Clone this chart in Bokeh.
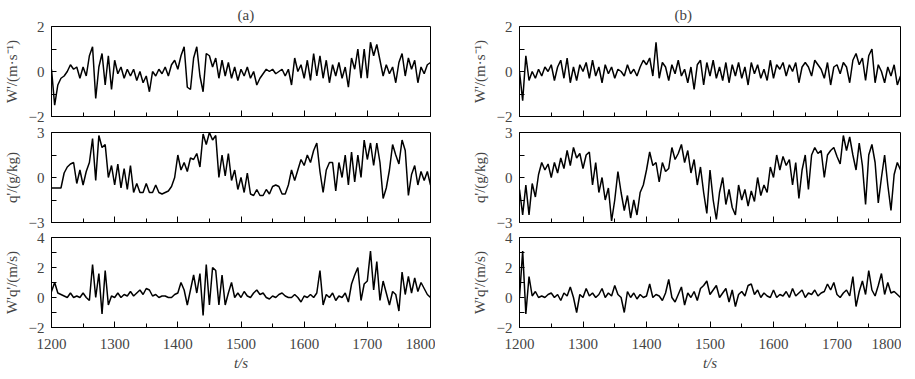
from bokeh.plotting import figure
from bokeh.layouts import row, column
from bokeh.models import FixedTicker, Range1d, Title
from bokeh.embed import file_html
from bokeh.resources import INLINE

t = list(range(1200, 1801, 5))

# (a) series
w_a = [0.1, -1.5, -0.6, -0.3, -0.2, 0.0, 0.3, 0.1, 0.2, -0.3,
       0.2, -0.2, 0.7, 1.1, -1.2, 0.2, 0.8, -0.6, 0.7, -0.8,
       0.5, -0.1, 0.2, -0.3, 0.1, -0.2, 0.1, -0.4, 0.0, -0.5,
       -0.2, -0.9, 0.0, -0.2, 0.1, -0.1, 0.2, -0.2, 0.3, 0.5,
       0.1, 0.7, 1.1, -0.7, -0.8, 0.6, 1.1, -0.2, -0.9, 0.8,
       0.7, 0.2, 0.6, -0.3, 0.5, -0.2, 0.4, -0.3, 0.2, -0.4,
       0.1, -0.2, 0.2, -0.3, 0.0, -0.6, -0.3, -0.1, 0.1, 0.0,
       0.1, -0.1, 0.0, 0.1, -0.2, 0.1, -0.6, 0.6, 0.0, 0.3,
       -0.3, 0.5, -0.4, 0.8, -0.2, 0.7, -0.3, 0.5, -0.5, 0.3,
       -0.2, 0.4, -0.3, 0.2, -0.7, 0.6, 0.1, 1.0, -0.3, 1.0,
       -0.3, 1.3, 0.7, 1.2, 0.5, -0.2, 0.3, -0.1, 0.2, -0.5,
       0.4, 0.8, -0.2, 0.6, 0.1, 0.5, -0.5, 0.2, -0.1, 0.3,
       0.4]
q_a = [-0.7, -0.7, -0.7, -0.7, 0.3, 0.7, 0.9, 1.0, -0.4, 0.5,
       -0.5, 0.4, 1.0, 2.6, -0.2, 2.8, 2.0, 2.2, 0.0, 0.8,
       -0.5, 0.9, -0.7, 0.6, -0.8, 0.8, -1.0, -0.4, -1.0, -1.0,
       -0.4, -1.0, -1.0, -0.5, -1.0, -1.1, -1.0, -0.9, -0.6, 0.0,
       1.5, 0.5, 1.0, 0.4, 1.3, 1.2, 1.6, 0.7, 2.9, 2.2,
       3.0, 2.5, 2.8, 0.0, 1.5, 0.1, 1.6, -0.2, 0.5, -0.8,
       0.0, -1.0, 0.3, -1.1, -1.2, -0.8, -1.2, -1.2, -0.8, -1.1,
       -0.6, -0.5, -0.6, -1.1, -1.1, -0.5, 0.5, -0.2, 0.5, 1.2,
       0.8, 1.5, 1.0, 1.8, 2.3, 0.4, -1.0, 0.5, 1.0, 1.0,
       -0.9, 1.0, 0.0, 1.5, -0.5, 1.7, -0.3, 1.5, 0.0, 2.5,
       1.2, 2.3, 0.8, 2.3, 1.0, -1.4, -0.7, 0.5, 2.2, 1.5,
       0.9, 2.5, 1.8, -1.2, 0.2, 0.8, -0.5, 0.4, -0.2, 0.4,
       -0.5]
wq_a = [0.4, 1.0, 0.3, 0.2, 0.1, 0.0, 0.3, 0.0, 0.1, 0.0,
        0.3, 0.0, -0.2, 2.2, 0.0, 1.6, -1.1, 1.8, -0.5, 0.1,
        0.0, 0.3, 0.0, 0.2, 0.1, 0.4, 0.1, 0.3, 0.5, 0.2,
        0.6, 0.5, 0.1, 0.2, 0.0, 0.1, 0.1, 0.0, 0.0, 0.2,
        0.3, 1.0, 0.5, -0.5, 0.5, 1.5, 0.3, 1.6, -1.2, 2.2,
        -0.5, 2.0, 1.8, -0.5, 1.5, -0.5, 0.3, 1.0, 0.0, 0.3,
        0.0, 0.4, 0.1, 0.0, 0.3, 0.5, 0.2, 0.3, 0.0, -0.1,
        0.1, 0.0, 0.2, 0.3, 0.1, 0.0, 0.0, 0.2, 0.0, -0.3,
        0.1, 0.0, 0.2, 0.0, 0.3, 1.8, -0.5, 0.2, 0.0, 0.3,
        -0.2, 0.1, 0.0, 0.3, -0.3, 0.9, 1.5, 2.0, -0.2, 0.9,
        1.1, 3.1, 0.5, 2.4, -0.2, 1.1, 0.3, -0.5, 0.4, 0.2,
        -0.9, 1.7, 0.2, 1.4, 0.3, 1.3, 0.4, 1.0, 0.6, 0.2,
        0.0]

# (b) series
w_b = [0.0, -1.3, 0.7, -0.4, 0.0, -0.3, 0.1, -0.2, 0.2, 0.0,
       0.3, -0.4, 0.2, 0.5, -0.3, 0.6, -0.5, 0.2, -0.4, 0.3,
       0.0, 0.4, -0.3, 0.5, -0.2, 0.2, -0.5, 0.3, -0.1, 0.2,
       -0.3, 0.1, 0.0, -0.2, 0.3, -0.1, 0.1, -0.2, 0.2, 0.5,
       0.3, 0.6, -0.2, 1.3, -0.3, 0.4, 0.2, -0.4, 0.3, -0.1,
       0.5, -0.2, 0.1, -0.5, 0.2, -0.8, 0.3, 0.5, -0.6, 0.4,
       -0.2, 0.5, -0.3, 0.2, -0.4, 0.4, -0.5, 0.3, -0.2, 0.4,
       -0.3, 0.2, -0.6, 0.4, -0.1, 0.3, -0.3, 0.1, -0.4, 0.5,
       -0.3, 0.3, 0.1, 0.4, -0.2, 0.3, 0.0, 0.4, -0.5, 0.2,
       0.4, 0.2, -0.2, 0.5, 0.3, 0.1, -0.3, 0.4, -0.6, 0.2,
       0.3, -0.1, 0.4, 0.2, -0.5, 0.5, 0.8, 0.3, 0.6, -0.4,
       0.7, 1.0, -0.5, 0.3, 0.0, -0.5, 0.2, -0.2, 0.3, -0.6,
       -0.2]
q_b = [-0.8, -2.5, -0.5, -2.5, -0.4, -1.3, 0.2, 1.0, 0.5, 0.9,
       0.0, 1.0, 0.3, 1.3, 0.6, 1.8, 0.8, 2.0, 1.3, 1.6,
       0.6, 1.5, 1.7, -0.5, 1.0, -1.0, 0.0, -1.5, -0.7, -2.9,
       -1.5, 0.4, -1.0, -2.2, -1.2, -2.7, -1.5, -2.5, -1.0, -0.5,
       0.5, 1.7, 0.8, 1.0, -0.3, 1.0, 0.4, 0.6, 2.0, 1.2,
       1.6, 2.2, 1.0, 1.8, 0.3, 1.2, -0.5, 0.7, -1.0, -2.4,
       0.5, -1.5, -2.8, -1.0, 0.0, -1.8, -0.8, -2.0, -2.5, -0.5,
       -1.5, -0.8, -1.9, -0.9, -1.6, 0.0, -1.2, -0.5, -1.0, 0.7,
       0.0, 1.5, 0.5, 1.4, 0.8, 1.2, -0.5, 1.0, -1.4, 0.5,
       1.5, -0.8, 1.5, 2.0, 1.6, 1.8, 0.0, 1.5, 1.8, 2.0,
       1.4, 0.9, 2.8, 1.8, 2.7, 1.5, 0.5, 2.3, 0.8, -1.8,
       1.5, 2.2, 1.0, -1.7, 0.0, 1.5, -0.5, -2.2, 0.2, 1.0,
       0.5]
wq_b = [0.0, 3.1, -1.1, 1.4, 0.1, 0.4, 0.0, 0.1, 0.0, 0.2,
        0.3, 0.0, 0.2, -0.2, 0.3, 0.1, 0.7, 0.0, -1.0, 0.2,
        0.0, 0.6, 0.1, 0.3, 0.0, 0.2, 0.6, 0.0, 0.3, 0.1,
        0.8, 0.2, 0.0, -1.0, 0.4, 0.0, 0.3, -0.1, 0.2, 0.0,
        0.1, 0.9, 0.0, 0.2, 0.1, -0.2, 0.3, 1.2, 0.0, -0.3,
        0.2, 0.7, -0.5, 0.3, 0.0, 0.4, -0.2, 0.6, 0.8, 1.1,
        0.2, 0.5, 0.8, 0.0, 0.3, 0.6, -0.3, 0.5, -0.6, 0.2,
        0.4, 0.1, 0.8, 0.9, 0.2, 0.5, 0.0, 0.3, 0.1, 0.0,
        0.5, 0.0, 0.2, 0.1, 0.4, 0.0, 0.6, 0.1, 0.3, 0.5,
        0.0, 0.3, 0.2, 0.5, 0.1, 0.3, 0.4, 0.9, 0.5, 1.0,
        0.2, 0.0, 0.3, 0.5, 0.1, 1.4, -0.6, 0.4, 1.1, 0.2,
        1.8, 0.5, 0.1, 0.8, 1.6, 0.2, 1.0, 0.3, 0.4, 0.2,
        0.0]

x_major = [1200, 1300, 1400, 1500, 1600, 1700, 1800]
x_minor = [1250, 1350, 1450, 1550, 1650, 1750]
x_label = "t/s"
titles = ["(a)", "(b)"]

ylabels = ["W'/(m·s⁻¹)", "q'/(g/kg)", "W'q'/(m/s)"]
y_limits = [(-2, 2), (-3, 3), (-2, 4)]
y_major = [[-2, 0, 2], [-3, 0, 3], [-2, 0, 2, 4]]
y_minor = [[-1, 1], [-1.5, 1.5], [-1, 1, 3]]

FONT = "Liberation Serif"
FS = "15px"


def panel(y, idx, col, title=None):
    bottom = idx == 2
    top = idx == 0
    left_b = 41 if col == 0 else 84
    right_b = 5 if col == 0 else 1
    top_b = 26 if top else 8
    bot_b = 8 if top else 7
    p = figure(frame_width=379 if col == 0 else 381, frame_height=90,
               x_range=Range1d(1200, 1800), y_range=Range1d(*y_limits[idx]),
               output_backend="svg", toolbar_location=None,
               min_border_left=left_b, min_border_right=right_b,
               min_border_top=top_b, min_border_bottom=bot_b,
               background_fill_color="white", border_fill_color="white")
    p.line(t, y, line_color="black", line_width=1.5)
    p.grid.visible = False
    p.outline_line_color = "black"
    p.outline_line_width = 1
    p.outline_line_alpha = 1

    xa = p.xaxis[0]
    xa.ticker = FixedTicker(ticks=x_major, minor_ticks=x_minor)
    xa.major_tick_in = 6
    xa.major_tick_out = 0
    xa.minor_tick_in = 4
    xa.minor_tick_out = 0
    xa.axis_line_color = "black"
    xa.major_tick_line_color = "black"
    xa.minor_tick_line_color = "black"
    if bottom:
        xa.major_label_text_font = FONT
        xa.major_label_text_font_size = FS
        xa.major_label_standoff = 11
        xa.axis_label = x_label
        xa.axis_label_text_font = FONT
        xa.axis_label_text_font_size = FS
        xa.axis_label_text_font_style = "italic"
        xa.axis_label_standoff = 3
    else:
        xa.major_label_text_color = None
        xa.major_label_text_font_size = "1px"
        xa.major_label_standoff = 0

    ya = p.yaxis[0]
    ya.ticker = FixedTicker(ticks=y_major[idx], minor_ticks=y_minor[idx])
    ya.major_tick_in = 5
    ya.major_tick_out = 0
    ya.minor_tick_in = 5
    ya.minor_tick_out = 0
    ya.axis_line_color = "black"
    ya.major_tick_line_color = "black"
    ya.minor_tick_line_color = "black"
    ya.major_label_text_font = FONT
    ya.major_label_text_font_size = FS
    ya.major_label_standoff = 7
    ya.axis_label = ylabels[idx]
    ya.axis_label_text_font = FONT
    ya.axis_label_text_font_size = FS
    ya.axis_label_text_font_style = "normal"
    ya.axis_label_standoff = 6

    if title is not None:
        p.title = Title(text=title, align="left",
                        offset=186 if col == 0 else 155,
                        text_font=FONT, text_font_size=FS,
                        text_font_style="normal", standoff=8)
    return p


cols = []
for c, series in enumerate([(w_a, q_a, wq_a), (w_b, q_b, wq_b)]):
    figs = []
    for i, s in enumerate(series):
        figs.append(panel(s, i, c, titles[c] if i == 0 else None))
    cols.append(column(*figs, spacing=0))

layout = row(*cols, spacing=0)
open("out.html", "w").write(file_html(layout, INLINE))
